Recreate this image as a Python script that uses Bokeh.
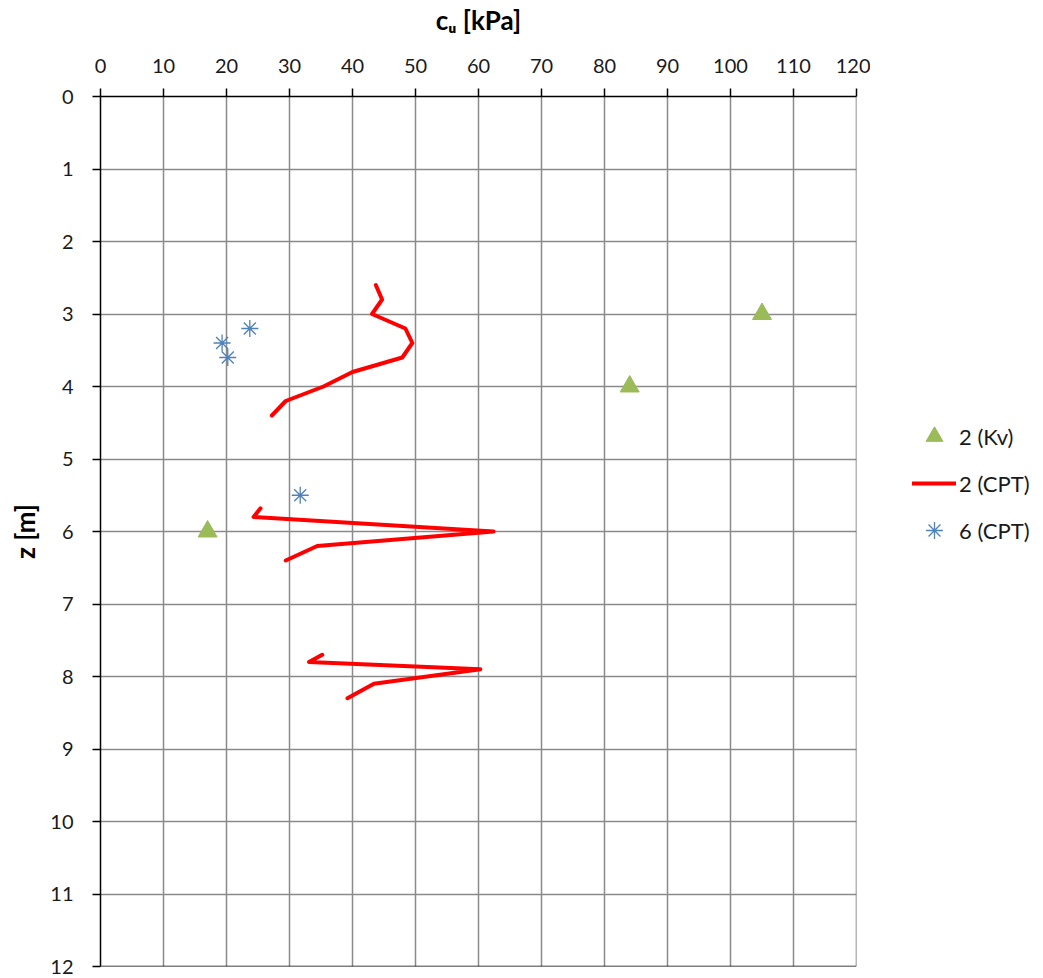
from bokeh.plotting import figure
from bokeh.models import Range1d, Legend, LegendItem, Span, FixedTicker
from bokeh.layouts import row
from bokeh.embed import file_html
from bokeh.resources import INLINE

nan = float("nan")

# ---- data ----
kv_cu = [105.0, 84.0, 17.0]
kv_z = [3.0, 4.0, 6.0]

cpt2_cu = [43.7, 44.7, 43.1, 48.4, 49.5, 47.9, 40.0, 35.4, 29.4, 27.2, nan,
           25.4, 24.3, 62.4, 34.4, 29.4, nan,
           35.2, 33.1, 60.3, 43.4, 39.2]
cpt2_z = [2.6, 2.8, 3.0, 3.2, 3.4, 3.6, 3.8, 4.0, 4.2, 4.4, nan,
          5.68, 5.8, 6.0, 6.2, 6.4, nan,
          7.7, 7.8, 7.9, 8.1, 8.3]

cpt6_cu = [23.7, 19.3, 20.2, 31.7]
cpt6_z = [3.2, 3.4, 3.6, 5.5]

series_labels = ["2 (Kv)", "2 (CPT)", "6 (CPT)"]

x_ticks = list(range(0, 121, 10))
y_ticks = list(range(0, 13, 1))

FONT = "Lato"
KV_STYLE = dict(marker="triangle", size=19, fill_color="#9bbb59", line_color="#9bbb59")
CPT2_STYLE = dict(line_color="#ff0000", line_width=4, line_join="round", line_cap="round")
CPT6_STYLE = dict(marker="asterisk", size=17, line_color="#4f81bd", line_width=1.3)

p = figure(width=870, height=976, output_backend="svg", toolbar_location=None,
           x_range=Range1d(0, 120), y_range=Range1d(12, 0),
           x_axis_location="above",
           min_border_left=100, min_border_top=95, min_border_bottom=10,
           min_border_right=14)
p.outline_line_color = None
p.background_fill_color = "white"
p.border_fill_color = "white"

for ax in (p.xaxis[0], p.yaxis[0]):
    ax.axis_line_color = "black"
    ax.axis_line_width = 1.5
    ax.major_tick_line_color = "black"
    ax.major_tick_line_width = 1.5
    ax.major_tick_out = 8
    ax.major_tick_in = 0
    ax.minor_tick_line_color = None
    ax.major_label_text_font = FONT
    ax.major_label_text_font_size = "20px"
    ax.major_label_text_color = "#1a1a1a"
    ax.major_label_standoff = 19
    ax.axis_label_text_font = FONT
    ax.axis_label_text_font_style = "bold"
    ax.axis_label_text_font_size = "26px"
    ax.axis_label_text_color = "black"

p.xaxis.major_label_standoff = 16
p.xaxis.ticker = FixedTicker(ticks=x_ticks)
p.yaxis.ticker = FixedTicker(ticks=y_ticks)

p.xaxis.axis_label = "c\u1d64 [kPa]"
p.xaxis.axis_label_standoff = 20
p.yaxis.axis_label = "z [m]"
p.yaxis.axis_label_standoff = 6

p.xgrid.ticker = FixedTicker(ticks=x_ticks)
p.ygrid.ticker = FixedTicker(ticks=y_ticks)
for g in (p.xgrid[0], p.ygrid[0]):
    g.grid_line_color = "#8a8a8a"
    g.grid_line_width = 1.5

p.add_layout(Span(location=12, dimension="width", line_color="black", line_width=1.5))
p.add_layout(Span(location=120, dimension="height", line_color="#6e6e6e", line_width=1.5))

p.scatter(kv_cu, kv_z, **KV_STYLE)
p.line(cpt2_cu, cpt2_z, **CPT2_STYLE)
p.scatter(cpt6_cu, cpt6_z, **CPT6_STYLE)

# ---- legend panel: narrow figure whose ranges exclude the data, so only the legend shows ----
lg = figure(width=170, height=976, output_backend="svg", toolbar_location=None,
            x_range=Range1d(0, 1), y_range=Range1d(0, 1),
            x_axis_location=None, y_axis_location=None,
            min_border_left=0, min_border_right=0, min_border_top=0, min_border_bottom=0)
lg.outline_line_color = None
lg.grid.visible = False
lg.background_fill_color = "white"
lg.border_fill_color = "white"

e_kv = lg.scatter(kv_cu, kv_z, **KV_STYLE)
e_cpt2 = lg.line(cpt2_cu, cpt2_z, **CPT2_STYLE)
e_cpt6 = lg.scatter(cpt6_cu, cpt6_z, **CPT6_STYLE)

legend = Legend(items=[LegendItem(label=series_labels[0], renderers=[e_kv]),
                       LegendItem(label=series_labels[1], renderers=[e_cpt2]),
                       LegendItem(label=series_labels[2], renderers=[e_cpt6])],
                location=(42, 415))
legend.label_text_font = FONT
legend.label_text_font_size = "22px"
legend.label_text_color = "#1a1a1a"
legend.glyph_width = 44
legend.glyph_height = 42
legend.spacing = 5
legend.padding = 5
legend.margin = 0
legend.label_standoff = 3
legend.border_line_color = None
legend.background_fill_alpha = 0
lg.add_layout(legend, "center")

layout = row(p, lg)
open("out.html", "w").write(file_html(layout, INLINE))
